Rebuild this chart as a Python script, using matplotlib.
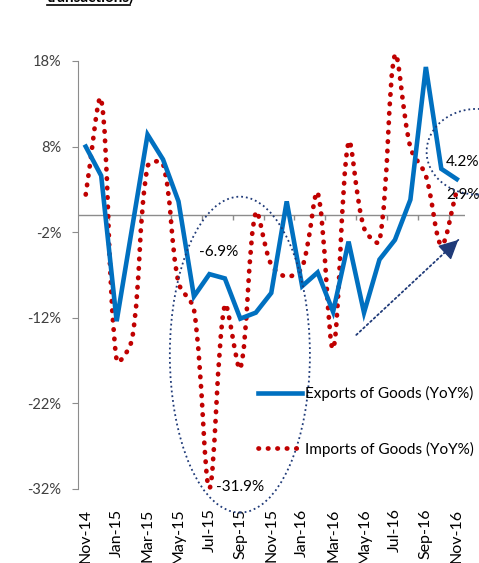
import numpy as np
import matplotlib
matplotlib.use('Agg')
import matplotlib.pyplot as plt
from matplotlib.path import Path
from matplotlib.patches import PathPatch, Ellipse
from matplotlib.lines import Line2D

plt.rcParams['font.family'] = ['Lato', 'DejaVu Sans']

# months Nov-14 .. Nov-16
months = ['Nov-14', 'Dec-14', 'Jan-15', 'Feb-15', 'Mar-15', 'Apr-15', 'May-15',
          'Jun-15', 'Jul-15', 'Aug-15', 'Sep-15', 'Oct-15', 'Nov-15', 'Dec-15',
          'Jan-16', 'Feb-16', 'Mar-16', 'Apr-16', 'May-16', 'Jun-16', 'Jul-16',
          'Aug-16', 'Sep-16', 'Oct-16', 'Nov-16']

# YoY % values
exports = [8.0, 4.6, -12.4, -1.5, 9.4, 6.5, 1.6, -9.5, -6.9, -7.4, -12.1, -11.4,
           -9.1, 1.6, -8.3, -6.7, -11.3, -3.1, -11.4, -5.2, -2.9, 1.8, 17.3, 5.4, 4.2]
imports = [2.4, 13.5, -17.0, -14.5, 5.7, 6.0, -7.9, -11.0, -31.9, -10.5, -17.9, 0.3,
           -5.8, -7.2, -6.1, 2.6, -15.6, 8.5, -1.5, -3.1, 18.7, 7.9, 4.6, -3.5, 2.9]

yticks = [-32, -22, -12, -2, 8, 18]

blue = '#0070C0'
red = '#C00000'
navy = '#1F3A78'

fig = plt.figure(figsize=(4.79, 5.63), dpi=100)
ax = fig.add_axes([78 / 479, 1 - 489 / 563, 386.5 / 479, 428 / 563])

x = np.arange(len(months))

# exports: straight segments
ax.plot(x, exports, color=blue, lw=3.3, solid_joinstyle='miter', clip_on=False, zorder=3)

# imports: smoothed line, bezier through the points with chord-length scaled tangents
pts = np.column_stack([x, imports]).astype(float)
scale = np.array([15.45, 8.56])  # px per unit, to measure chords on screen
n = len(pts)


def chord(a, b):
    return np.hypot(*((pts[b] - pts[a]) * scale))


verts = [tuple(pts[0])]
codes = [Path.MOVETO]
for i in range(n - 1):
    a, b = i, i + 1
    pa, pb = pts[a], pts[b]
    d = chord(a, b)
    ta = pts[min(b, n - 1)] - pts[max(a - 1, 0)]
    da = chord(max(a - 1, 0), a) + d
    tb = pts[min(b + 1, n - 1)] - pts[a]
    db = d + chord(b, min(b + 1, n - 1))
    c1 = pa + ta * d / da / 3
    c2 = pb - tb * d / db / 3
    verts += [tuple(c1), tuple(c2), tuple(pb)]
    codes += [Path.CURVE4] * 3
dot_style = (0, (0.1, 1.9))
imp_patch = PathPatch(Path(verts, codes), fill=False, edgecolor=red, lw=3.4,
                      linestyle=dot_style, capstyle='round', clip_on=False, zorder=2)
ax.add_patch(imp_patch)

ax.set_xlim(-0.5, len(months) - 0.5)
ax.set_ylim(-32, 18)

# zero line with category tick marks
ax.axhline(0, color='#8c8c8c', lw=1, zorder=1)
ax.vlines(np.arange(1.5, len(months), 2), -0.55, 0, color='#8c8c8c', lw=1, zorder=1)

ax.spines['top'].set_visible(False)
ax.spines['right'].set_visible(False)
ax.spines['bottom'].set_visible(False)
ax.spines['left'].set_color('#8c8c8c')

ax.set_yticks(yticks)
ax.set_yticklabels([f'{v}%' for v in yticks])
ax.tick_params(axis='y', length=4, color='#8c8c8c', labelsize=10.5, labelcolor='#404040', pad=8)
ax.set_xticks(x[::2])
ax.set_xticklabels(months[::2], rotation=90)
ax.tick_params(axis='x', length=0, labelsize=11.5, pad=14)

# annotations
ax.text(8.6, -4.3, '-6.9%', fontsize=11, ha='center', va='center')
ax.text(10.0, -31.8, '-31.9%', fontsize=11, ha='center', va='center')
ax.text(23.3, 6.25, '4.2%', fontsize=11, ha='left', va='center')
ax.text(23.3, 2.4, '2.9%', fontsize=11, ha='left', va='center')

ax.add_patch(Ellipse((9.97, -16.3), 9.06, 36.9, fill=False, edgecolor=navy,
                     lw=1.3, linestyle=':', clip_on=False, zorder=4))
ax.add_patch(Ellipse((25.3, 7.4), 6.5, 10.0, fill=False, edgecolor=navy,
                     lw=1.3, linestyle=':', clip_on=False, zorder=4))

# dotted arrow: dotted shaft plus solid filled head
start = np.array([17.5, -14.0])
tip = np.array([24.1, -2.9])
ax.annotate('', xy=tip, xytext=start,
            arrowprops=dict(arrowstyle='-', color=navy, lw=1.3, linestyle=':',
                            shrinkA=0, shrinkB=0),
            annotation_clip=False)
ax.annotate('', xy=tip, xytext=tip - (tip - start) * 0.12,
            arrowprops=dict(arrowstyle='-|>,head_length=0.8,head_width=0.4', color=navy,
                            lw=1.0, mutation_scale=15, shrinkA=0, shrinkB=0),
            annotation_clip=False, zorder=5)

handles = [Line2D([], [], color=blue, lw=3.3),
           Line2D([], [], color=red, lw=3.4, linestyle=dot_style, dash_capstyle='round')]
ax.legend(handles, ['Exports of Goods (YoY%)', 'Imports of Goods (YoY%)'],
          loc='upper left', bbox_to_anchor=(258 / 479, 1 - 386 / 563),
          bbox_transform=fig.transFigure, frameon=False, fontsize=11,
          handlelength=2.9, handletextpad=0.2, labelspacing=2.65,
          borderpad=0, borderaxespad=0)

# cut-off heading at the very top
fig.text(47 / 479, 1 - 1.5 / 563, 'transactions)', fontsize=11, fontweight='bold', va='baseline')
fig.add_artist(Line2D([47 / 479, 130 / 479], [1 - 4.5 / 563] * 2, color='black', lw=1.2))

fig.savefig('out.png', dpi=100)
